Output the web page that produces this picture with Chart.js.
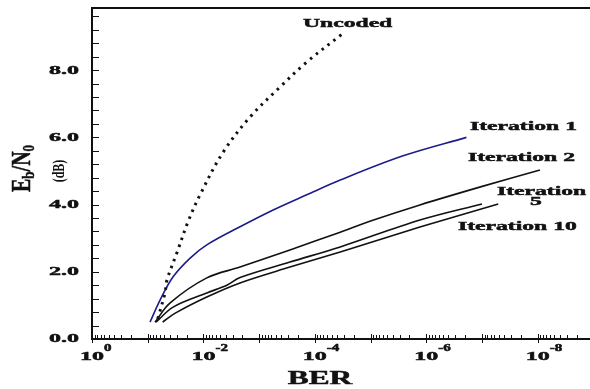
<!DOCTYPE html>
<html>
<head>
<meta charset="utf-8">
<script src="https://cdn.jsdelivr.net/npm/chart.js@4.4.0/dist/chart.umd.min.js"></script>
<style>
  html, body { margin: 0; padding: 0; background: #fff; }
</style>
</head>
<body>
<canvas id="chart" width="590" height="389"></canvas>
<script>
// BER (x) and Eb/N0 in dB (y)
const uncodedBer = [6.6e-2, 4.9e-2, 4.5e-2, 3.0e-2, 1.9e-2, 1.15e-2, 4.5e-3, 1.45e-3, 4.2e-4, 1.4e-4, 3.1e-5];
const uncodedDb  = [0.6, 1.37, 1.76, 2.56, 3.48, 4.29, 5.54, 6.61, 7.5, 8.24, 9.1];

const iter1Ber = [9.1e-2, 6.0e-2, 3.5e-2, 1.75e-2, 8.7e-3, 2.2e-3, 5.6e-4, 1.4e-4, 3.5e-5, 2.6e-6, 1.9e-7];
const iter1Db  = [0.5, 1.16, 1.85, 2.4, 2.8, 3.34, 3.84, 4.29, 4.73, 5.45, 6.0];

const iter2Ber = [7.4e-2, 4.0e-2, 8.7e-3, 2.2e-3, 2.8e-4, 3.5e-5, 1.0e-5, 1.3e-6, 1.1e-7, 9.1e-9];
const iter2Db  = [0.5, 1.07, 1.82, 2.14, 2.65, 3.18, 3.51, 3.99, 4.52, 5.03];

const iter5Ber = [7.1e-2, 3.5e-2, 8.7e-3, 3.8e-3, 2.2e-3, 2.8e-4, 3.5e-5, 1.3e-6, 1.0e-7];
const iter5Db  = [0.5, 0.95, 1.37, 1.6, 1.83, 2.29, 2.74, 3.54, 4.02];

const iter10Ber = [5.4e-2, 3.2e-2, 8.7e-3, 2.2e-3, 2.8e-4, 3.5e-5, 1.3e-6, 5.1e-8];
const iter10Db  = [0.5, 0.77, 1.25, 1.67, 2.14, 2.59, 3.33, 4.02];

// axis ticks
const xLabelExps = [0, -2, -4, -6, -8];
const yLabelVals = [0, 2, 4, 6, 8];
const yLabels = ['0.0', '2.0', '4.0', '6.0', '8.0'];
const yMinorStep = 0.4;

const pts = (xs, ys) => xs.map((x, i) => ({ x: x, y: ys[i] }));

const SERIF = '"Liberation Serif", "Times New Roman", serif';

function stretchText(ctx, txt, x, y, size, sx, align) {
  ctx.save();
  ctx.font = 'bold ' + size + 'px ' + SERIF;
  ctx.translate(x, y);
  ctx.scale(sx, 1);
  ctx.textAlign = align || 'left';
  ctx.textBaseline = 'middle';
  ctx.lineWidth = 0.5;
  ctx.strokeText(txt, 0, 0);
  ctx.fillText(txt, 0, 0);
  ctx.restore();
}

const decorations = {
  id: 'decorations',
  afterDraw(chart) {
    const ctx = chart.ctx;
    const area = chart.chartArea;
    const xs = chart.scales.x;
    const ys = chart.scales.y;

    ctx.save();
    ctx.strokeStyle = '#111';
    ctx.fillStyle = '#111';

    // frame: left, bottom, top
    ctx.lineWidth = 2;
    ctx.beginPath();
    ctx.moveTo(area.right, area.top);
    ctx.lineTo(area.left, area.top);
    ctx.lineTo(area.left, area.bottom);
    ctx.lineTo(area.right, area.bottom);
    ctx.stroke();

    // x ticks (log, inside)
    ctx.lineWidth = 1;
    ctx.beginPath();
    for (let e = 0; e >= -9; e--) {
      for (let s = 1; s <= 9; s++) {
        const v = s * Math.pow(10, e);
        if (v > xs.max || v < xs.min) continue;
        const px = Math.round(xs.getPixelForValue(v)) + 0.5;
        if (s === 1) {
          ctx.moveTo(px, area.bottom - 5);
          ctx.lineTo(px, area.bottom + 4);
        } else {
          ctx.moveTo(px, area.bottom - 4);
          ctx.lineTo(px, area.bottom);
        }
      }
    }
    // y ticks (inside)
    for (let i = 1; i * yMinorStep <= ys.max; i++) {
      const py = Math.round(ys.getPixelForValue(i * yMinorStep)) + 0.5;
      ctx.moveTo(area.left, py);
      ctx.lineTo(area.left + 7, py);
    }
    ctx.stroke();

    // y tick labels
    yLabelVals.forEach((v, i) => {
      stretchText(ctx, yLabels[i], 79, ys.getPixelForValue(v), 13, 1.85, 'right');
    });

    // x tick labels 10^n
    xLabelExps.forEach(e => {
      const px = xs.getPixelForValue(Math.pow(10, e));
      ctx.font = 'bold 13px ' + SERIF;
      const w = ctx.measureText('10').width * 1.85;
      stretchText(ctx, '10', px, 357, 13, 1.85, 'center');
      stretchText(ctx, e === 0 ? '0' : '-' + (-e), px + w / 2, 348, 10, 1.5, 'left');
    });

    // axis titles
    stretchText(ctx, 'BER', 320, 379, 19, 1.65, 'center');

    ctx.save();
    ctx.translate(30, 192);
    ctx.rotate(-Math.PI / 2);
    ctx.scale(1, 1.35);
    ctx.textBaseline = 'alphabetic';
    ctx.textAlign = 'left';
    ctx.lineWidth = 0.4;
    let cx = 0;
    const part = (t, size, dy) => {
      ctx.font = 'bold ' + size + 'px ' + SERIF;
      ctx.strokeText(t, cx, dy);
      ctx.fillText(t, cx, dy);
      cx += ctx.measureText(t).width;
    };
    part('E', 20, 0);
    part('b', 13, 3);
    part('/N', 20, 0);
    part('0', 13, 3);
    ctx.restore();

    ctx.save();
    ctx.translate(64, 171);
    ctx.rotate(-Math.PI / 2);
    ctx.scale(1, 1.4);
    ctx.font = 'bold 12px ' + SERIF;
    ctx.textAlign = 'center';
    ctx.textBaseline = 'alphabetic';
    ctx.fillText('(dB)', 0, 0);
    ctx.restore();

    // curve annotations
    stretchText(ctx, 'Uncoded', 303, 24, 13.5, 1.75);
    stretchText(ctx, 'Iteration 1', 470, 127, 13.5, 1.75);
    stretchText(ctx, 'Iteration 2', 468, 158, 13.5, 1.75);
    stretchText(ctx, 'Iteration', 497, 192, 13.5, 1.75);
    stretchText(ctx, '5', 536, 202, 13.5, 1.75, 'center');
    stretchText(ctx, 'Iteration 10', 458, 227, 13.5, 1.75);

    ctx.restore();
  }
};

const lineStyle = (color, width) => ({
  borderColor: color,
  borderWidth: width,
  pointRadius: 0,
  fill: false,
  tension: 0.35
});

new Chart(document.getElementById('chart'), {
  type: 'line',
  data: {
    datasets: [
      Object.assign({ label: 'Uncoded', data: pts(uncodedBer, uncodedDb), borderDash: [2.5, 5] }, lineStyle('#111', 3)),
      Object.assign({ label: 'Iteration 1', data: pts(iter1Ber, iter1Db) }, lineStyle('#1c1c8a', 1.6)),
      Object.assign({ label: 'Iteration 2', data: pts(iter2Ber, iter2Db) }, lineStyle('#111', 1.6)),
      Object.assign({ label: 'Iteration 5', data: pts(iter5Ber, iter5Db) }, lineStyle('#111', 1.6)),
      Object.assign({ label: 'Iteration 10', data: pts(iter10Ber, iter10Db) }, lineStyle('#111', 1.6))
    ]
  },
  options: {
    responsive: false,
    animation: false,
    layout: { padding: { left: 92, top: 8, right: 0, bottom: 50 } },
    plugins: { legend: { display: false }, tooltip: { enabled: false } },
    scales: {
      x: { type: 'logarithmic', reverse: true, min: 1.15e-9, max: 1, display: false },
      y: { type: 'linear', min: 0, max: 9.85, display: false }
    }
  },
  plugins: [decorations]
});
</script>
</body>
</html>
